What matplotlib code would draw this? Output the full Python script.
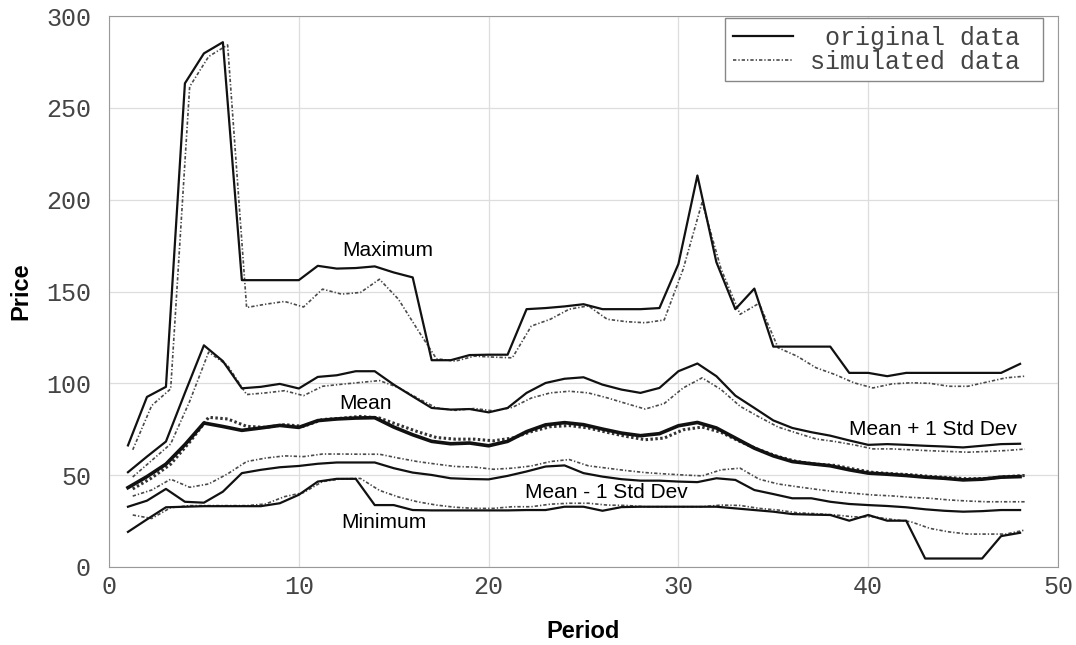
import numpy as np
from matplotlib import pyplot as plt

# price statistics per period: original vs simulated
periods = np.arange(1, 49)

max_orig = [66.2, 92.6, 98.1, 263.4, 279.7, 285.8, 156.2, 156.2, 156.2, 156.2, 164, 162.5,
            162.8, 163.7, 160.4, 157.7, 112.6, 112.6, 115.4, 115.6, 115.6, 140.4, 141, 141.9,
            143.1, 140.4, 140.4, 140.4, 141, 165, 213.2, 166, 140.4, 151.6, 120, 120,
            120, 120, 105.7, 105.7, 103.9, 105.7, 105.7, 105.7, 105.7, 105.7, 105.7, 110.6]
max_sim = [63.8, 87.9, 97, 261.6, 278, 284.3, 141.3, 143.1, 144.6, 141.6, 151.3, 148.6,
           149.5, 156.7, 145.8, 129.4, 113.4, 112.1, 114.8, 114.3, 113.9, 131.2, 134.9, 140.4,
           142.2, 134.9, 133.6, 133, 134.5, 162.2, 198.7, 162.2, 137.6, 143.6, 119.4, 114.8,
           108.5, 104.8, 100.3, 97.5, 99.7, 100.3, 100, 98.4, 98.4, 100.7, 103, 103.9]

sdp_orig = [51.6, 60.1, 68.3, 94.8, 120.7, 112.1, 97.3, 98.1, 99.7, 97.2, 103.5, 104.4,
            106.6, 106.6, 99.3, 92.9, 86.6, 85.7, 86, 84.2, 86.6, 94.8, 100.2, 102.5,
            103.3, 99.3, 96.6, 94.8, 97.5, 106.6, 110.8, 103.9, 93.3, 86.6, 79.8, 75.7,
            73.4, 71.5, 68.9, 66.5, 66.9, 66.5, 66, 65.6, 65.1, 66, 66.9, 67.1]
sdp_sim = [49, 58, 67, 90.2, 117, 109.7, 93.9, 94.8, 96, 93.3, 98.4, 99.5,
           100.5, 101.5, 97.7, 92, 86.6, 85.3, 86.3, 85, 86.9, 92, 94.8, 95.7,
           94.8, 92.1, 89, 86, 89, 97.5, 103, 96.6, 87.5, 81.7, 76.2, 72.9,
           69.7, 68.3, 66.5, 64.3, 64.3, 63.8, 63.3, 62.9, 62.5, 62.9, 63.4, 64.2]

mean_orig = [43.2, 49.2, 56, 66.6, 78.4, 76.5, 74.4, 75.7, 77.1, 76, 79.7, 80.6,
             81.1, 81.3, 76.2, 72, 68.4, 67.1, 67.5, 66, 68.4, 73.7, 77.4, 78.6,
             77.5, 75.1, 72.9, 71.5, 72.6, 76.9, 78.7, 75.7, 70.2, 64.7, 60.5, 57.4,
             56.2, 55.1, 52.9, 51.1, 50.5, 49.8, 48.9, 48.3, 47.4, 47.8, 48.9, 49.2]
mean_sim = [42.5, 48.5, 56, 68, 81.5, 80.6, 76.6, 76, 77.5, 76.6, 80.3, 81,
            82, 81.1, 77.4, 73.7, 70.5, 69.6, 69.6, 68.7, 70.2, 73.7, 76.4, 77,
            75.7, 73.3, 71.1, 69.3, 70.2, 74.7, 76.2, 73.3, 68.3, 63.8, 60.1, 57.4,
            56, 55.3, 53.3, 51.5, 50.8, 50.2, 49.3, 48.7, 48, 48.2, 49.2, 49.8]

sdm_orig = [32.8, 36.1, 42.5, 35.5, 35, 41, 51.1, 52.9, 54.3, 55, 56.2, 56.9,
            56.9, 56.9, 53.8, 51.4, 50.1, 48.3, 47.9, 47.7, 49.6, 52, 54.7, 55.3,
            51.1, 49.2, 47.8, 47, 47, 46.5, 46.2, 48.3, 47.4, 41.9, 39.7, 37.4,
            37.4, 35.5, 34.3, 33.7, 33.2, 32.5, 31.4, 30.6, 30.1, 30.4, 31, 31]
sdm_sim = [38.6, 41.9, 47.8, 43.4, 45.2, 50.7, 57.4, 59.3, 60.5, 60.1, 61.5, 61.5,
           61.4, 61.4, 59.3, 57.4, 56, 54.7, 54.4, 53.2, 53.8, 55, 57.4, 58.5,
           55.1, 53.8, 52.5, 51.4, 50.7, 50.1, 49.6, 52.9, 53.8, 47.8, 45.2, 43.7,
           42.3, 41, 40.1, 39.2, 38.7, 37.9, 37.4, 36.5, 35.9, 35.5, 35.5, 35.5]

min_orig = [19.1, 25.9, 32.5, 32.8, 33.1, 33.1, 33.1, 33.1, 34.7, 39.3, 46.5, 48,
            48, 33.7, 33.7, 31, 30.8, 30.8, 30.8, 30.8, 30.8, 31, 31, 32.8,
            32.8, 30.6, 32.6, 32.8, 32.8, 32.8, 32.8, 32.8, 31.9, 31, 30.1, 28.8,
            28.5, 28.3, 25.2, 28.3, 25.2, 25.2, 4.6, 4.6, 4.6, 4.6, 16.8, 18.6]
min_sim = [28.3, 26.4, 32.3, 33.4, 33.4, 33.4, 33.4, 34.3, 38.3, 40.5, 46.5, 48,
           48.2, 41.7, 38.1, 35.5, 33.7, 32.5, 31.9, 31.9, 32.8, 32.8, 34.2, 34.7,
           34.7, 33.7, 33.5, 32.8, 32.8, 32.8, 32.8, 33.7, 33.5, 31.9, 31, 29.5,
           29, 28.3, 27.3, 27.3, 25.9, 24.6, 21, 19.1, 17.9, 17.9, 17.9, 20.1]

# simulated series are drawn a quarter period to the right, as in the original figure
sim_shift = 0.25

mono = 'Liberation Mono'
sans = 'Liberation Sans'
sim_style = (0, (2, 1.2, 0.8, 1.2))
sim_color = '#4a4a4a'

fig = plt.figure(figsize=(10.76, 6.45), dpi=100)
ax = fig.add_axes([0.1013, 0.121, 0.882, 0.854])

orig_series = [max_orig, sdp_orig, sdm_orig, min_orig]
sim_series = [max_sim, sdp_sim, sdm_sim, min_sim]

for i, s in enumerate(sim_series):
    ax.plot(periods + sim_shift, s, color=sim_color, linestyle=sim_style, lw=1.2,
            label='simulated data ' if i == 0 else None, zorder=2)
ax.plot(periods + sim_shift, mean_sim, color='#333333', linestyle=(0, (0.8, 0.8)), lw=2.2, zorder=2)

for i, s in enumerate(orig_series):
    ax.plot(periods, s, color='#111111', lw=1.6,
            label=' original data ' if i == 0 else None, zorder=3)
ax.plot(periods, mean_orig, color='#111111', lw=2.6, zorder=3)

# series names
ax.text(14.7, 172.6, 'Maximum', fontsize=15, family=sans, ha='center', va='center')
ax.text(13.5, 89, 'Mean', fontsize=15, family=sans, ha='center', va='center')
ax.text(43.4, 74.7, 'Mean + 1 Std Dev', fontsize=15, family=sans, ha='center', va='center')
ax.text(26.2, 40.8, 'Mean - 1 Std Dev', fontsize=15, family=sans, ha='center', va='center')
ax.text(14.5, 24.4, 'Minimum', fontsize=15, family=sans, ha='center', va='center')

ax.set_xlim(0, 50)
ax.set_ylim(0, 300)
ax.set_xticks(range(0, 51, 10))
ax.set_yticks(range(0, 301, 50))
ax.grid(True, color='#dddddd', lw=0.9)
ax.set_axisbelow(True)
for sp in ax.spines.values():
    sp.set_color('#999999')
ax.tick_params(length=0, labelsize=18, colors='#444444')
ax.tick_params(axis='y', pad=13)
ax.tick_params(axis='x', pad=6)
for lab in ax.get_xticklabels() + ax.get_yticklabels():
    lab.set_family(mono)

ax.set_xlabel('Period', fontsize=17, fontweight='bold', family=sans, labelpad=15)
ax.set_ylabel('Price', fontsize=17, fontweight='bold', family=sans, labelpad=10)

handles, labels = ax.get_legend_handles_labels()
order = [labels.index(' original data '), labels.index('simulated data ')]
leg = ax.legend([handles[k] for k in order], [labels[k] for k in order],
                loc='upper right', bbox_to_anchor=(0.984, 0.996), borderaxespad=0,
                prop={'family': mono, 'size': 18}, fancybox=False, framealpha=1,
                edgecolor='#888888', handlelength=2.4, handletextpad=0.7,
                labelspacing=0.0, borderpad=0.3)
leg.get_frame().set_linewidth(1.0)
for t in leg.get_texts():
    t.set_color('#444444')

fig.savefig('out.png', dpi=100)
